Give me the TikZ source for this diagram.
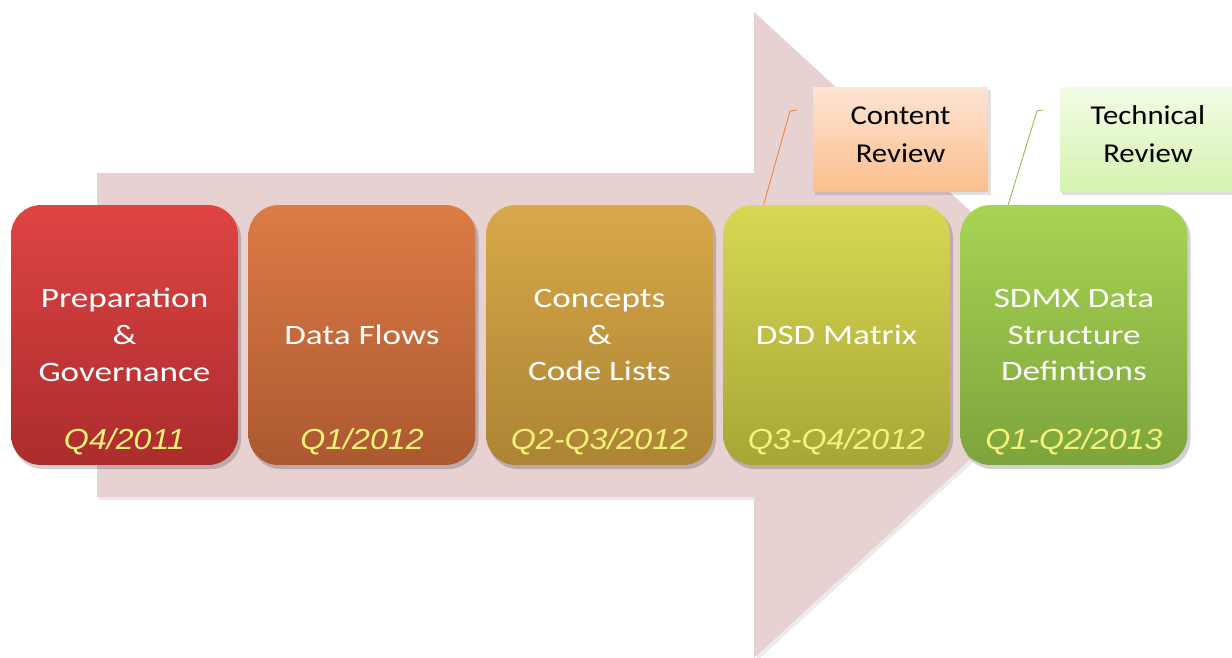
\documentclass[tikz,border=0pt]{standalone}
\usepackage{fontspec}
\setmainfont{Carlito}
\newfontfamily\stagefont{Carlito}[FakeStretch=1.25]
\newfontfamily\calloutfont{Carlito}[FakeStretch=1.13]
\newfontfamily\datefont{Liberation Sans}[FakeStretch=1.11]
\usetikzlibrary{calc}
\definecolor{arrowpink}{RGB}{231,209,209}
\definecolor{r1t}{RGB}{222,68,68}\definecolor{r1b}{RGB}{172,44,44}
\definecolor{r2t}{RGB}{220,124,70}\definecolor{r2b}{RGB}{172,88,48}
\definecolor{r3t}{RGB}{216,168,74}\definecolor{r3b}{RGB}{172,132,52}
\definecolor{r4t}{RGB}{216,216,84}\definecolor{r4b}{RGB}{166,166,54}
\definecolor{r5t}{RGB}{168,212,84}\definecolor{r5b}{RGB}{124,164,60}
\definecolor{datecol}{RGB}{244,242,120}
\definecolor{cortop}{RGB}{253,228,212}\definecolor{corbot}{RGB}{250,190,140}
\definecolor{cgrtop}{RGB}{242,252,228}\definecolor{cgrbot}{RGB}{214,242,176}
\definecolor{corline}{RGB}{240,130,60}\definecolor{cgrline}{RGB}{140,190,80}
\tikzset{
  stagebox/.style={rounded corners=0.6cm, minimum width=4.54cm, minimum height=5.2cm,
    text=white, align=center, font=\stagefont\fontsize{16}{21}\selectfont, inner sep=0pt},
  datelabel/.style={text=datecol, font=\datefont\itshape\fontsize{16.5}{19}\selectfont, inner sep=0pt},
  calloutbox/.style={minimum width=3.5cm, minimum height=2.1cm, align=center,
    font=\calloutfont\fontsize{15.5}{21.5}\selectfont, text=black, inner sep=0pt},
  shadowbox/.style={fill=black, opacity=0.18, rounded corners=0.6cm}
}
\begin{document}
\begin{tikzpicture}[x=0.02cm,y=-0.02cm]
\useasboundingbox (0,0) rectangle (1232,657);
% big arrow
\fill[black,opacity=0.08] (99,176) -- (757,176) -- (757,15) -- (1108,338) -- (757,661) -- (757,500) -- (99,500) -- cycle;
\fill[arrowpink] (97,173) -- (754,173) -- (754,12) -- (1105,335) -- (754,658) -- (754,497) -- (97,497) -- cycle;
% shadows
\foreach \x in {124.5,362,599.5,836.5,1074}{
  \fill[shadowbox] (\x-113.5+2,208) rectangle (\x+113.5+3,469);
}
% stages
\node[stagebox, top color=r1t, bottom color=r1b] (b1) at (124.5,335) {Preparation\\\&\\Governance};
\node[stagebox, top color=r2t, bottom color=r2b] (b2) at (362,335) {Data Flows};
\node[stagebox, top color=r3t, bottom color=r3b] (b3) at (599.5,335) {Concepts\\\&\\Code Lists};
\node[stagebox, top color=r4t, bottom color=r4b] (b4) at (836.5,335) {DSD Matrix};
\node[stagebox, top color=r5t, bottom color=r5b] (b5) at (1074,335) {SDMX Data\\Structure\\Defintions};
\node[datelabel] (d1) at ($(b1.south)+(0,-24)$) {Q4/2011};
\node[datelabel] (d2) at ($(b2.south)+(0,-24)$) {Q1/2012};
\node[datelabel] (d3) at ($(b3.south)+(0,-24)$) {Q2-Q3/2012};
\node[datelabel] (d4) at ($(b4.south)+(0,-24)$) {Q3-Q4/2012};
\node[datelabel] (d5) at ($(b5.south)+(0,-24)$) {Q1-Q2/2013};
% callouts
\fill[black,opacity=0.12] (815,90) rectangle (991,195);
\fill[black,opacity=0.12] (1062,90) rectangle (1235,195);
\node[calloutbox, top color=cortop, bottom color=corbot] (c1) at (900.5,139.5) {};
\node[calloutbox, top color=cgrtop, bottom color=cgrbot] (c2) at (1148,139.5) {};
\node[calloutbox, minimum width=0pt, minimum height=0pt] (t1) at ($(c1)+(0,-5)$) {Content\\Review};
\node[calloutbox, minimum width=0pt, minimum height=0pt] (t2) at ($(c2)+(0,-5)$) {Technical\\Review};
\coordinate (c1end) at (797,110);
\coordinate (c2end) at (1043,110);
\draw[corline, line width=0.5pt] ($(b4.north west)+(41,0)$) -- (790,111) -- (c1end);
\draw[cgrline, line width=0.5pt] ($(b5.north west)+(48,0)$) -- (1037,111) -- (c2end);
\end{tikzpicture}
\end{document}
